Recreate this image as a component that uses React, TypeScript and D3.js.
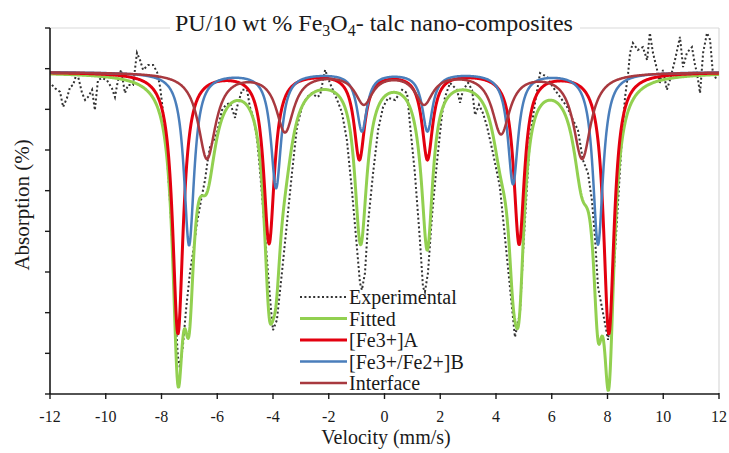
import React from "react";
import * as d3 from "d3";

const W = 729;
const H = 453;
const plot = { left: 50, right: 719, top: 28, bottom: 394 };

const velocityTicks = [-12, -10, -8, -6, -4, -2, 0, 2, 4, 6, 8, 10, 12];
const absorptionTicks = [0, 1, 2, 3, 4, 5, 6, 7, 8, 9];
const baselineLevel = 7.92;

// Lorentzian sextets: line positions (mm/s), depths, half widths
const siteAPositions = [-7.41, -4.14, -0.9, 1.54, 4.83, 8.05];
const siteADepths = [6.42, 4.18, 2.11, 2.11, 4.2, 6.42];
const siteAWidth = 0.23;
const siteBPositions = [-7.01, -3.89, -0.81, 1.54, 4.61, 7.66];
const siteBDepths = [4.25, 2.83, 1.43, 1.43, 2.73, 4.23];
const siteBWidth = 0.22;
const interfacePositions = [-6.37, -3.57, -0.74, 1.42, 4.18, 7.09];
const interfaceDepths = [2.11, 1.43, 0.74, 0.74, 1.48, 2.11];
const interfaceWidth = 0.38;

// Experimental spectrum
const expVelocity = [
  -11.93, -11.82, -11.64, -11.53, -11.39, -11.28, -11.17, -11.03, -10.92, -10.85,
  -10.74, -10.64, -10.49, -10.39, -10.28, -10.13, -9.96, -9.78, -9.67, -9.56,
  -9.45, -9.31, -9.2, -9.02, -8.88, -8.77, -8.66, -8.48, -8.3, -8.16,
  -8.05, -7.91, -7.8, -7.7, -7.62, -7.52, -7.41, -7.34, -7.23, -7.12,
  -6.98, -6.83, -6.73, -6.58, -6.44, -6.33, -6.26, -6.12, -6.01, -5.83,
  -5.69, -5.54, -5.36, -5.29, -5.11, -4.93, -4.83, -4.68, -4.57, -4.47,
  -4.36, -4.18, -4.07, -4.0, -3.86, -3.68, -3.5, -3.32, -3.14, -2.96,
  -2.78, -2.6, -2.42, -2.31, -2.13, -1.96, -1.7, -1.53, -1.35, -1.17,
  -0.99, -0.88, -0.81, -0.7, -0.59, -0.41, -0.23, -0.05, 0.13, 0.38,
  0.63, 0.81, 0.91, 1.09, 1.27, 1.38, 1.45, 1.56, 1.7, 1.88,
  2.06, 2.17, 2.35, 2.6, 2.71, 2.82, 3.0, 3.14, 3.25, 3.39,
  3.53, 3.68, 3.89, 4.14, 4.32, 4.5, 4.68, 4.86, 4.97, 5.11,
  5.22, 5.4, 5.58, 5.83, 6.04, 6.3, 6.55, 6.76, 6.94, 7.12,
  7.3, 7.44, 7.55, 7.66, 7.84, 8.02, 8.16, 8.34, 8.52, 8.63,
  8.74, 8.81, 8.91, 9.09, 9.27, 9.42, 9.52, 9.63, 9.78, 9.88,
  9.99, 10.13, 10.24, 10.42, 10.6, 10.71, 10.85, 11.03, 11.14, 11.21,
  11.32, 11.43, 11.57, 11.68, 11.78, 11.93,
];
const expAbsorption = [
  7.6, 7.52, 7.43, 7.06, 7.28, 7.55, 7.6, 7.92, 7.6, 7.4,
  7.23, 7.3, 7.48, 6.98, 7.72, 7.77, 7.72, 7.52, 7.3, 7.72,
  7.97, 7.4, 7.6, 7.6, 8.39, 8.21, 7.97, 8.09, 8.09, 7.92,
  7.55, 6.74, 5.83, 4.77, 3.79, 2.14, 0.91, 0.64, 1.2, 2.07,
  2.98, 3.66, 4.2, 4.77, 5.26, 5.8, 6.07, 6.25, 6.42, 6.98,
  7.11, 7.16, 6.79, 7.06, 7.48, 7.48, 7.06, 6.74, 6.25, 5.51,
  4.6, 2.98, 2.07, 1.57, 1.82, 2.98, 4.2, 5.43, 6.57, 7.06,
  7.3, 7.4, 7.3, 7.35, 7.97, 7.65, 7.23, 6.93, 6.25, 5.02,
  3.61, 2.73, 2.56, 2.98, 4.2, 5.43, 6.49, 7.06, 7.28, 7.23,
  7.48, 7.4, 6.66, 5.43, 3.79, 2.63, 2.51, 2.98, 4.35, 5.68,
  6.86, 7.3, 7.65, 7.48, 7.16, 7.48, 7.65, 7.48, 6.86, 7.11,
  6.91, 6.57, 5.93, 5.09, 3.86, 2.63, 1.4, 1.99, 3.47, 5.09,
  6.32, 7.16, 7.89, 7.8, 7.55, 7.3, 7.06, 6.74, 6.49, 5.75,
  5.43, 4.77, 3.86, 2.63, 1.99, 1.33, 2.24, 4.28, 6.32, 7.3,
  7.89, 8.39, 8.63, 8.46, 8.53, 8.21, 8.88, 8.39, 7.97, 7.65,
  7.97, 7.48, 7.72, 8.21, 8.78, 8.04, 8.39, 8.53, 8.09, 7.89,
  7.4, 8.39, 8.88, 8.71, 7.89, 7.72,
];

const legendLabels = ["Experimental", "Fitted", "[Fe3+]A", "[Fe3+/Fe2+]B", "Interface"];
const colors = {
  exp: "#333333",
  fitted: "#92d050",
  siteA: "#e3000f",
  siteB: "#4a7ebb",
  interface: "#a8393f",
};

const FONT = "'Liberation Serif', 'Times New Roman', serif";

function sextet(v: number, pos: number[], depth: number[], g: number) {
  return d3.sum(pos, (p, i) => depth[i] / (1 + ((v - p) / g) ** 2));
}

export default function App() {
  const x = d3.scaleLinear().domain([-12, 12]).range([plot.left, plot.right]);
  const y = d3.scaleLinear().domain([0, 9]).range([plot.bottom, plot.top]);

  const grid = d3.range(-12, 12.0001, 0.02);
  const aVals = grid.map((v) => sextet(v, siteAPositions, siteADepths, siteAWidth));
  const bVals = grid.map((v) => sextet(v, siteBPositions, siteBDepths, siteBWidth));
  const iVals = grid.map((v) => sextet(v, interfacePositions, interfaceDepths, interfaceWidth));

  const line = d3
    .line<[number, number]>()
    .x((d) => x(d[0]))
    .y((d) => y(d[1]));

  const siteA = grid.map((v, k) => [v, baselineLevel - aVals[k]] as [number, number]);
  const siteB = grid.map((v, k) => [v, baselineLevel - bVals[k]] as [number, number]);
  const inter = grid.map((v, k) => [v, baselineLevel - iVals[k]] as [number, number]);
  const fitted = grid.map(
    (v, k) => [v, baselineLevel - aVals[k] - bVals[k] - iVals[k]] as [number, number]
  );
  const exp = expVelocity.map((v, k) => [v, expAbsorption[k]] as [number, number]);

  const legendY0 = 297;
  const legendStep = 21.5;
  const legendStyles = [
    { stroke: colors.exp, dash: "2 2.4", width: 2 },
    { stroke: colors.fitted, dash: undefined, width: 3 },
    { stroke: colors.siteA, dash: undefined, width: 3 },
    { stroke: colors.siteB, dash: undefined, width: 2.5 },
    { stroke: colors.interface, dash: undefined, width: 2.5 },
  ];

  return (
    <svg
      width={W}
      height={H}
      style={{ position: "absolute", left: 0, top: 0, background: "#fff" }}
      fontFamily={FONT}
    >
      <rect x={0} y={0} width={W} height={H} fill="#fff" />
      <defs>
        <clipPath id="plotclip">
          <rect x={plot.left} y={plot.top - 10} width={plot.right - plot.left} height={plot.bottom - plot.top + 10} />
        </clipPath>
      </defs>
      {/* light frame top/right */}
      <line x1={plot.left} x2={plot.right} y1={plot.top} y2={plot.top} stroke="#d9d9d9" strokeWidth={1.2} />
      <line x1={plot.right} x2={plot.right} y1={plot.top} y2={plot.bottom} stroke="#d9d9d9" strokeWidth={1.2} />

      {/* title */}
      <rect x={170} y={8} width={410} height={30} fill="#fff" />
      <text x={175} y={31} fontSize={24} fill="#1a1a1a">
        PU/10 wt % Fe
        <tspan fontSize={16} dy={5}>3</tspan>
        <tspan dy={-5}>O</tspan>
        <tspan fontSize={16} dy={5}>4</tspan>
        <tspan dy={-5}>- talc nano-composites</tspan>
      </text>

      <g clipPath="url(#plotclip)">
        <path d={line(exp) || ""} fill="none" stroke={colors.exp} strokeWidth={2} strokeDasharray="2 2.4" />
        <path d={line(fitted) || ""} fill="none" stroke={colors.fitted} strokeWidth={3} strokeLinejoin="round" />
        <path d={line(siteA) || ""} fill="none" stroke={colors.siteA} strokeWidth={3} strokeLinejoin="round" />
        <path d={line(siteB) || ""} fill="none" stroke={colors.siteB} strokeWidth={2.5} strokeLinejoin="round" />
        <path d={line(inter) || ""} fill="none" stroke={colors.interface} strokeWidth={2.5} strokeLinejoin="round" />
      </g>

      {/* axes */}
      <line x1={plot.left} x2={plot.left} y1={plot.top} y2={plot.bottom} stroke="#1a1a1a" strokeWidth={1.6} />
      <line x1={plot.left} x2={plot.right} y1={plot.bottom} y2={plot.bottom} stroke="#1a1a1a" strokeWidth={1.6} />
      {absorptionTicks.map((t) => (
        <line key={"yt" + t} x1={plot.left - 5} x2={plot.left} y1={y(t)} y2={y(t)} stroke="#1a1a1a" strokeWidth={1.4} />
      ))}
      {velocityTicks.map((t) => (
        <g key={"xt" + t}>
          <line x1={x(t)} x2={x(t)} y1={plot.bottom - 1} y2={plot.bottom + 5} stroke="#1a1a1a" strokeWidth={1.4} />
          <text x={x(t)} y={422} fontSize={16} textAnchor="middle" fill="#1a1a1a">
            {t}
          </text>
        </g>
      ))}

      <text x={386} y={444} fontSize={20} textAnchor="middle" fill="#1a1a1a">
        Velocity (mm/s)
      </text>
      <text
        transform={`translate(29, ${(plot.top + plot.bottom) / 2 - 6}) rotate(-90)`}
        fontSize={21}
        textAnchor="middle"
        fill="#1a1a1a"
      >
        Absorption (%)
      </text>

      {/* legend */}
      {legendLabels.map((lab, i) => {
        const cy = legendY0 + i * legendStep;
        const st = legendStyles[i];
        return (
          <g key={lab}>
            <line x1={300} x2={347} y1={cy} y2={cy} stroke={st.stroke} strokeWidth={st.width} strokeDasharray={st.dash} />
            <text x={349} y={cy + 7} fontSize={20} fill="#1a1a1a">
              {lab}
            </text>
          </g>
        );
      })}
    </svg>
  );
}
